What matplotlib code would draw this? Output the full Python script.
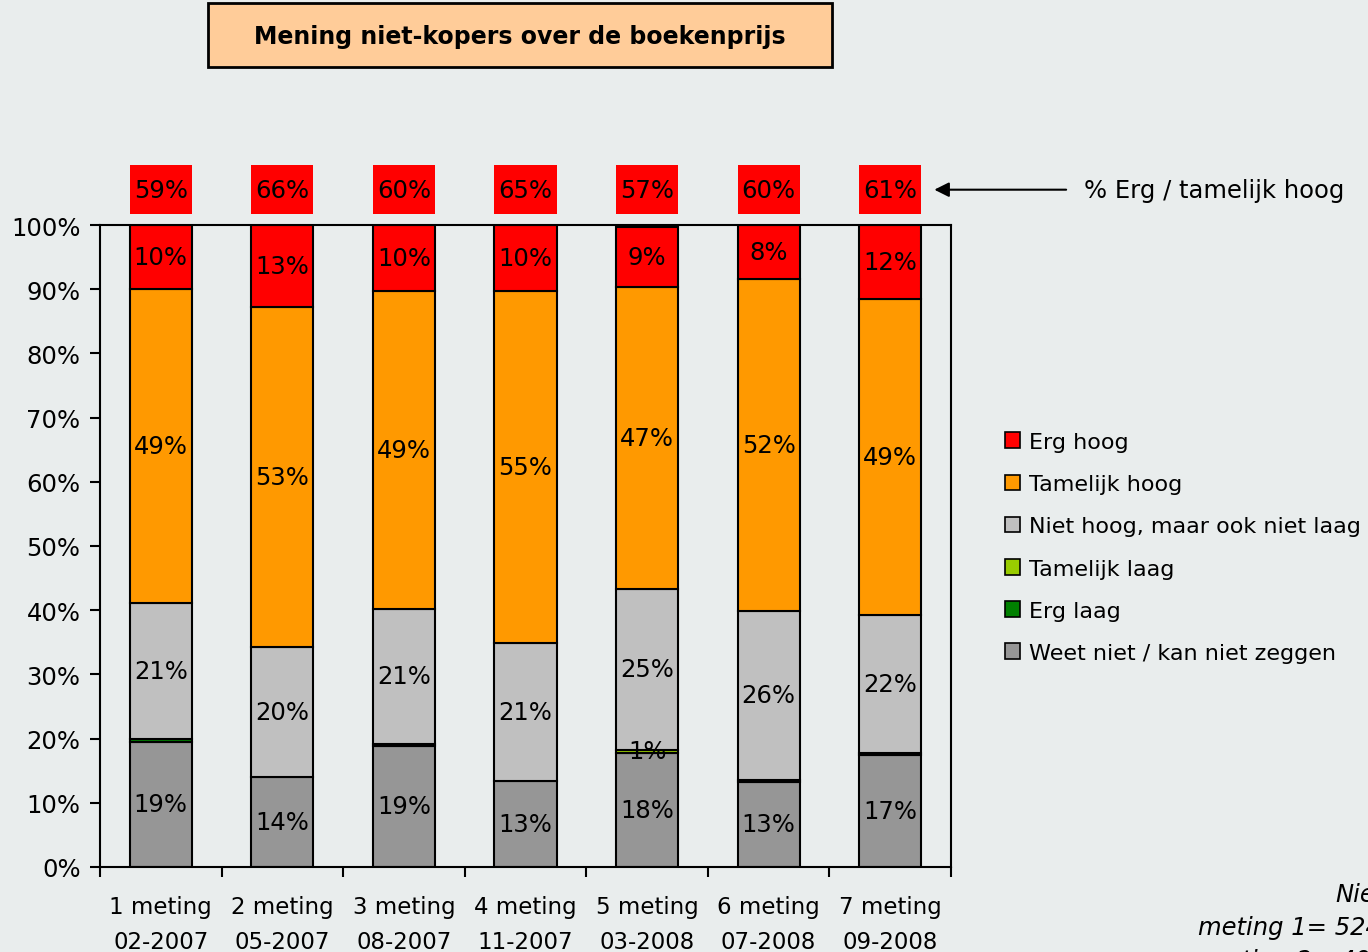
import matplotlib.pyplot as plt
from matplotlib.patches import Patch, Rectangle
import numpy as np

plt.rcParams['font.family'] = ['DejaVu Sans']

# data (percentages)
categories = ["1 meting\n02-2007", "2 meting\n05-2007", "3 meting\n08-2007", "4 meting\n11-2007",
              "5 meting\n03-2008", "6 meting\n07-2008", "7 meting\n09-2008"]
weet_niet = [19.5, 14.0, 18.9, 13.4, 17.8, 13.3, 17.4]
erg_laag = [0.4, 0.0, 0.3, 0.0, 0.0, 0.3, 0.3]
tam_laag = [0.0, 0.0, 0.0, 0.0, 0.5, 0.0, 0.0]
niet_hoog = [21.2, 20.3, 21.0, 21.5, 25.0, 26.3, 21.6]
tam_hoog = [48.9, 52.9, 49.5, 54.8, 47.0, 51.7, 49.2]
erg_hoog = [10.0, 12.8, 10.3, 10.3, 9.4, 8.4, 11.5]

lbl_weet = ["19%", "14%", "19%", "13%", "18%", "13%", "17%"]
lbl_tam_laag = ["", "", "", "", "1%", "", ""]
lbl_niet = ["21%", "20%", "21%", "21%", "25%", "26%", "22%"]
lbl_tam_hoog = ["49%", "53%", "49%", "55%", "47%", "52%", "49%"]
lbl_erg_hoog = ["10%", "13%", "10%", "10%", "9%", "8%", "12%"]
lbl_totaal = ["59%", "66%", "60%", "65%", "57%", "60%", "61%"]

series = [
    ("Weet niet / kan niet zeggen", weet_niet, '#969696', lbl_weet),
    ("Erg laag", erg_laag, '#008000', None),
    ("Tamelijk laag", tam_laag, '#99cc00', lbl_tam_laag),
    ("Niet hoog, maar ook niet laag", niet_hoog, '#c0c0c0', lbl_niet),
    ("Tamelijk hoog", tam_hoog, '#ff9900', lbl_tam_hoog),
    ("Erg hoog", erg_hoog, '#ff0000', lbl_erg_hoog),
]

bg = '#e9eded'
fs = 17.5

fig = plt.figure(figsize=(13.68, 9.53), dpi=100, facecolor=bg)
ax = fig.add_axes([100 / 1368, 85 / 953, 851 / 1368, 642 / 953])
ax.set_facecolor(bg)

x = np.arange(len(categories))
w = 0.51
bottom = np.zeros(len(categories))
handles = []
for name, vals, col, lbls in series:
    vals = np.array(vals)
    lw = [1.5 if v > 0 else 0 for v in vals]
    ax.bar(x, vals, w, bottom=bottom, color=col, edgecolor='black', linewidth=lw, zorder=2)
    if lbls is not None:
        for i, t in enumerate(lbls):
            if t:
                ax.text(x[i], bottom[i] + vals[i] / 2, t, ha='center', va='center',
                        fontsize=fs, zorder=3)
    bottom += vals
    handles.append(Patch(facecolor=col, edgecolor='black', linewidth=1.2, label=name))

# boxes with total % erg / tamelijk hoog
ax.bar(x, [7.6] * len(x), w, bottom=101.7, color='#ff0000', linewidth=0, clip_on=False)
for i, t in enumerate(lbl_totaal):
    ax.text(x[i], 105.5, t, ha='center', va='center', fontsize=fs, clip_on=False)

ax.annotate('', xy=(6.34, 105.5), xytext=(7.47, 105.5), xycoords='data',
            arrowprops=dict(arrowstyle='-|>', color='black', lw=1.5, mutation_scale=22),
            annotation_clip=False)
ax.text(7.59, 105.5, '% Erg / tamelijk hoog', ha='left', va='center', fontsize=fs, clip_on=False)

ax.set_xlim(-0.5, 6.5)
ax.set_ylim(0, 100)
ax.set_yticks(np.arange(0, 101, 10))
ax.set_yticklabels([f"{v}%" for v in range(0, 101, 10)], fontsize=fs)
ax.set_xticks(x)
ax.set_xticklabels(categories, fontsize=16.5, linespacing=1.7)
ax.set_xticks(np.arange(-0.5, 7, 1), minor=True)
ax.tick_params(axis='x', which='major', length=0, pad=20)
ax.tick_params(axis='x', which='minor', length=7, width=1.5, direction='out')
ax.tick_params(axis='y', length=7, width=1.5, pad=7)
for s in ax.spines.values():
    s.set_linewidth(1.5)
    s.set_color('black')

# legend
fig.legend(handles=handles[::-1], loc='upper left', bbox_to_anchor=(996 / 1368, (953 - 424) / 953),
           frameon=False, fontsize=16, handlelength=0.7, handleheight=0.7, handletextpad=0.4,
           labelspacing=1.0, borderaxespad=0)

# title box
fig.patches.append(Rectangle((208 / 1368, (953 - 68) / 953), 624 / 1368, 64 / 953,
                             transform=fig.transFigure, facecolor='#ffcc99', edgecolor='black',
                             linewidth=2))
fig.text(520 / 1368, (953 - 37) / 953, 'Mening niet-kopers over de boekenprijs',
         ha='center', va='center', fontsize=17, fontweight='bold')

# note (partly outside the picture, as in the original)
fig.text(1335 / 1368, (953 - 895) / 953, 'Niet-kopers', ha='left', va='center',
         fontsize=fs, style='italic')
fig.text(1198 / 1368, (953 - 928) / 953, 'meting 1= 524', ha='left', va='center',
         fontsize=fs, style='italic')
fig.text(1203 / 1368, (953 - 961) / 953, 'meting 2= 49', ha='left', va='center',
         fontsize=fs, style='italic')

fig.savefig('out.png', dpi=100, facecolor=bg)
